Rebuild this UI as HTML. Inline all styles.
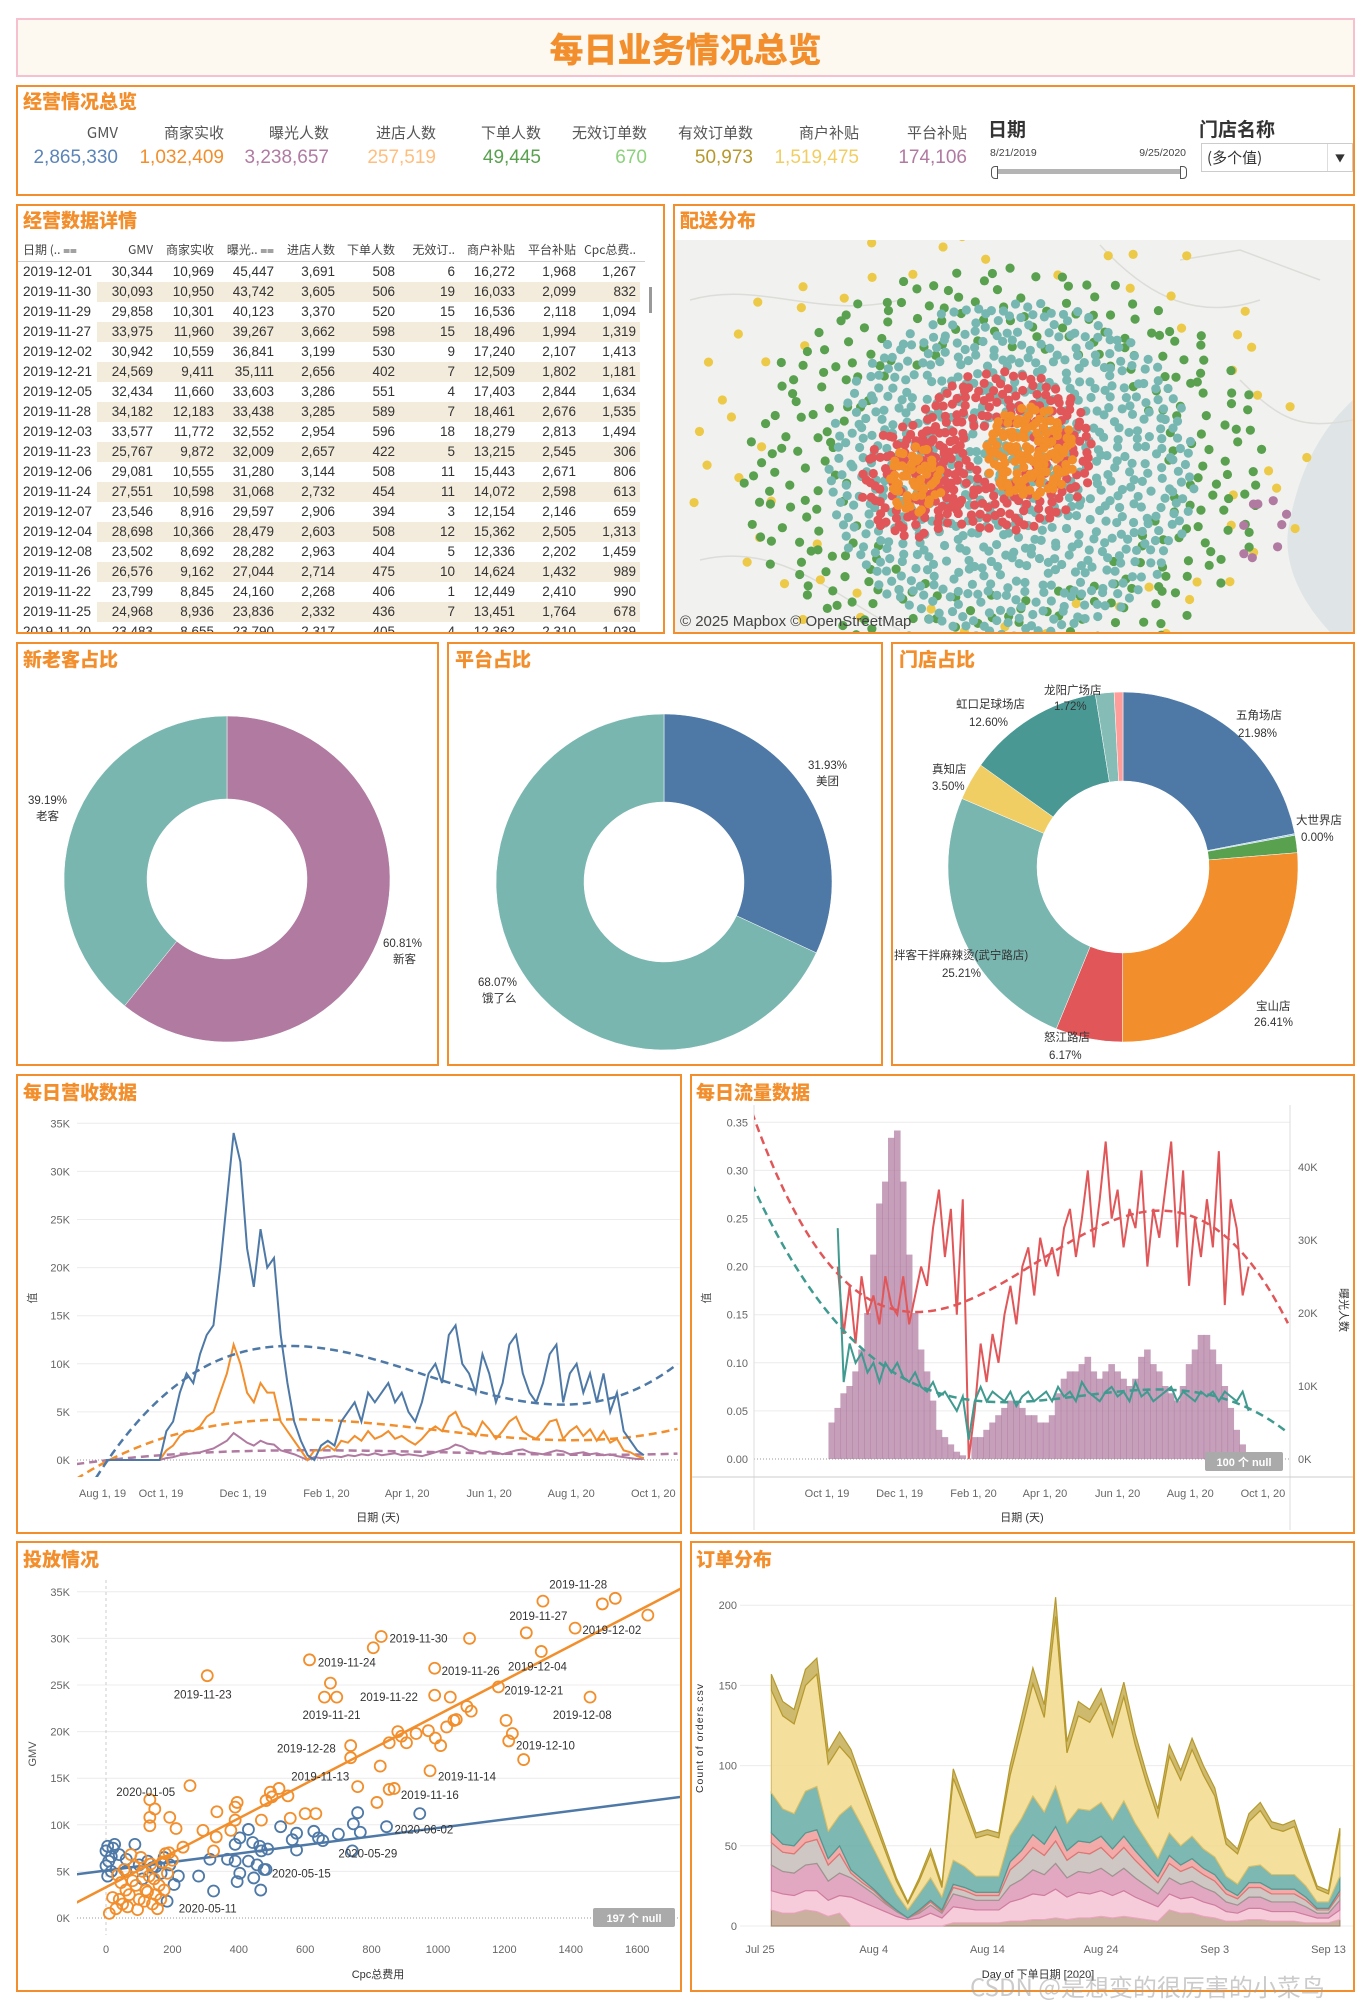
<!DOCTYPE html>
<html><head><meta charset="utf-8">
<style>
body{margin:0;width:1372px;height:2014px;position:relative;background:#fff;font-family:"Liberation Sans","Noto Sans CJK SC",sans-serif;overflow:hidden}
.p{position:absolute;border:2px solid #f28e2b;box-sizing:border-box;background:#fff}
.h{position:absolute;color:#f28e2b;font-weight:900;font-size:19px;font-family:"Noto Sans CJK SC",sans-serif;line-height:24px;white-space:nowrap}
.kl{position:absolute;font-size:15px;color:#555;text-align:right;width:110px;font-family:"Noto Sans CJK SC",sans-serif;line-height:20px}
.kv{position:absolute;font-size:19px;text-align:right;width:130px;line-height:22px}
.tr{position:absolute;left:18px;width:625px;height:20px;font-size:13.5px;color:#333}
.tc{position:absolute;top:0;line-height:20px;text-align:right;width:70px}
.th{position:absolute;top:241px;font-size:12px;color:#444;line-height:18px;text-align:right;width:70px;font-family:"Noto Sans CJK SC",sans-serif;white-space:nowrap}
</style></head>
<body>
<div class="p" style="left:16px;top:18px;width:1339px;height:59px;background:#fdf8f0;border:2px solid #f6c0cf">
  <div style="position:absolute;left:0;right:0;top:6px;text-align:center;color:#f28e2b;font-size:34px;font-weight:900;font-family:'Noto Sans CJK SC',sans-serif;line-height:44px">每日业务情况总览</div>
</div>

<div class="p" style="left:16px;top:85px;width:1339px;height:111px"></div>
<div class="h" style="left:23px;top:89px">经营情况总览</div>
<div id="kpis"></div>
<div style="position:absolute;left:988px;top:115px;font-size:19px;font-weight:bold;color:#333;font-family:'Noto Sans CJK SC',sans-serif">日期</div>
<div style="position:absolute;left:990px;top:147px;font-size:10.5px;color:#444">8/21/2019</div>
<div style="position:absolute;left:1130px;top:147px;width:56px;text-align:right;font-size:10.5px;color:#444">9/25/2020</div>
<div style="position:absolute;left:993px;top:169px;width:193px;height:5px;background:#b4b4b4"></div>
<div style="position:absolute;left:991px;top:166px;width:5px;height:11px;border:1px solid #555;border-radius:4px 0 0 4px;background:#fff"></div>
<div style="position:absolute;left:1180px;top:166px;width:5px;height:11px;border:1px solid #555;border-radius:0 4px 4px 0;background:#fff"></div>
<div style="position:absolute;left:1199px;top:115px;font-size:19px;font-weight:bold;color:#333;font-family:'Noto Sans CJK SC',sans-serif">门店名称</div>
<div style="position:absolute;left:1201px;top:143px;width:152px;height:29px;border:1px solid #ccc;box-sizing:border-box;font-size:15px;line-height:27px;padding-left:5px;color:#333;font-family:'Noto Sans CJK SC',sans-serif">(多个值)<span style="position:absolute;right:0;top:0;width:24px;height:27px;border-left:1px solid #ddd;text-align:center;font-size:10px">▼</span></div>

<div class="p" style="left:16px;top:204px;width:649px;height:430px;overflow:hidden">
  <div id="tbl" style="position:absolute;left:-18px;top:-206px;width:680px;height:640px"></div>
</div>
<div class="h" style="left:23px;top:208px">经营数据详情</div>

<div class="p" style="left:673px;top:204px;width:682px;height:430px"></div>
<div class="h" style="left:680px;top:208px">配送分布</div>

<div class="p" style="left:16px;top:642px;width:423px;height:424px"></div>
<div class="h" style="left:23px;top:647px">新老客占比</div>
<div class="p" style="left:447px;top:642px;width:436px;height:424px"></div>
<div class="h" style="left:455px;top:647px">平台占比</div>
<div class="p" style="left:891px;top:642px;width:464px;height:424px"></div>
<div class="h" style="left:899px;top:647px">门店占比</div>

<div class="p" style="left:16px;top:1074px;width:666px;height:460px"></div>
<div class="h" style="left:23px;top:1080px">每日营收数据</div>
<div class="p" style="left:690px;top:1074px;width:665px;height:460px"></div>
<div class="h" style="left:696px;top:1080px">每日流量数据</div>

<div class="p" style="left:16px;top:1541px;width:666px;height:451px"></div>
<div class="h" style="left:23px;top:1547px">投放情况</div>
<div class="p" style="left:690px;top:1541px;width:665px;height:451px"></div>
<div class="h" style="left:696px;top:1547px">订单分布</div>

<svg id="sv" width="1372" height="2014" style="position:absolute;left:0;top:0;pointer-events:none" xmlns="http://www.w3.org/2000/svg">
<defs>
<clipPath id="cMap"><rect x="675" y="240" width="678" height="392"/></clipPath>
<clipPath id="c1"><rect x="77" y="1105" width="603" height="372"/></clipPath>
<clipPath id="c2"><rect x="754" y="1105" width="536" height="372"/></clipPath>
<clipPath id="c3"><rect x="77" y="1575" width="603" height="360"/></clipPath>
</defs>
</svg>
<div style="position:absolute;left:970px;top:1968px;font-size:24px;color:rgba(160,160,160,0.55);font-family:'Noto Sans CJK SC',sans-serif;white-space:nowrap">CSDN @是想变的很厉害的小菜鸟</div>

<script>
// ---------- KPI data ----------
const kpiNames=['GMV','商家实收','曝光人数','进店人数','下单人数','无效订单数','有效订单数','商户补贴','平台补贴'];
const kpiValues=['2,865,330','1,032,409','3,238,657','257,519','49,445','670','50,973','1,519,475','174,106'];
const kpiColors=['#5b84b8','#f28e2b','#b07aa1','#ffbe7d','#59a14f','#8cd17d','#b6992d','#f1ce63','#b07aa1'];
const kpiRight=[118,224,329,436,541,647,753,859,967];
const kp=document.getElementById('kpis');
kpiNames.forEach((n,i)=>{
  const l=document.createElement('div');l.className='kl';
  
  
  l.style.left=(kpiRight[i]-110)+'px';l.style.top='123px';l.textContent=n;kp.appendChild(l);
  const v=document.createElement('div');v.className='kv';
  
  
  v.style.left=(kpiRight[i]-130)+'px';v.style.top='147px';v.style.color=kpiColors[i];v.textContent=kpiValues[i];kp.appendChild(v);
});

// ---------- table data ----------
const tableHead=['日期 (.. ⩵','GMV','商家实收','曝光.. ⩵','进店人数','下单人数','无效订..','商户补贴','平台补贴','Cpc总费..'];
const tableRows=[
['2019-12-01','30,344','10,969','45,447','3,691','508','6','16,272','1,968','1,267'],
['2019-11-30','30,093','10,950','43,742','3,605','506','19','16,033','2,099','832'],
['2019-11-29','29,858','10,301','40,123','3,370','520','15','16,536','2,118','1,094'],
['2019-11-27','33,975','11,960','39,267','3,662','598','15','18,496','1,994','1,319'],
['2019-12-02','30,942','10,559','36,841','3,199','530','9','17,240','2,107','1,413'],
['2019-12-21','24,569','9,411','35,111','2,656','402','7','12,509','1,802','1,181'],
['2019-12-05','32,434','11,660','33,603','3,286','551','4','17,403','2,844','1,634'],
['2019-11-28','34,182','12,183','33,438','3,285','589','7','18,461','2,676','1,535'],
['2019-12-03','33,577','11,772','32,552','2,954','596','18','18,279','2,813','1,494'],
['2019-11-23','25,767','9,872','32,009','2,657','422','5','13,215','2,545','306'],
['2019-12-06','29,081','10,555','31,280','3,144','508','11','15,443','2,671','806'],
['2019-11-24','27,551','10,598','31,068','2,732','454','11','14,072','2,598','613'],
['2019-12-07','23,546','8,916','29,597','2,906','394','3','12,154','2,146','659'],
['2019-12-04','28,698','10,366','28,479','2,603','508','12','15,362','2,505','1,313'],
['2019-12-08','23,502','8,692','28,282','2,963','404','5','12,336','2,202','1,459'],
['2019-11-26','26,576','9,162','27,044','2,714','475','10','14,624','1,432','989'],
['2019-11-22','23,799','8,845','24,160','2,268','406','1','12,449','2,410','990'],
['2019-11-25','24,968','8,936','23,836','2,332','436','7','13,451','1,764','678'],
['2019-11-20','23,483','8,655','23,790','2,317','405','4','12,362','2,310','1,039']];
const colRight=[0,153,214,274,335,395,455,515,576,636];
const tb=document.getElementById('tbl');
tableHead.forEach((h,j)=>{
  const d=document.createElement('div');d.className='th';
  
  
  if(j===0){d.style.left='23px';d.style.textAlign='left';}else d.style.left=(colRight[j]-70)+'px';
  d.textContent=h;tb.appendChild(d);
});
const hl=document.createElement('div');


hl.style.cssText='position:absolute;left:18px;top:261px;width:627px;height:1px;background:#ccc';tb.appendChild(hl);
tableRows.forEach((r,i)=>{
  const row=document.createElement('div');row.className='tr';
  
  
  row.style.top=(262+i*20)+'px';
  if(i%2===1){const s=document.createElement('div');
    
    
    s.style.cssText='position:absolute;left:79px;top:0;width:543px;height:20px;background:#f3ecdc';row.appendChild(s);}
  r.forEach((c,j)=>{const d=document.createElement('div');d.className='tc';
    
    
    if(j===0){d.style.left='5px';d.style.textAlign='left';d.style.width='90px';}else d.style.left=(colRight[j]-70-18)+'px';
    d.textContent=c;row.appendChild(d);});
  tb.appendChild(row);
});
const sb=document.createElement('div');


sb.style.cssText='position:absolute;left:649px;top:287px;width:3px;height:26px;background:#999';tb.appendChild(sb);

// ---------- SVG helpers ----------
const NS='http://www.w3.org/2000/svg';const sv=document.getElementById('sv');
function mk(tag,at,parent){const e=document.createElementNS(NS,tag);for(const k in at)e.setAttribute(k,at[k]);(parent||sv).appendChild(e);return e;}
function txt(x,y,s,at,parent){const e=mk('text',Object.assign({x:x,y:y,'font-size':11,fill:'#666','font-family':'Liberation Sans, Noto Sans CJK SC, sans-serif'},at||{}),parent);e.textContent=s;return e;}
function polyfit(xs,ys,deg){const n=deg+1;const A=[];for(let i=0;i<n;i++){A.push(new Array(n+1).fill(0));}
  const m=xs.reduce((a,b)=>a+b,0)/xs.length;let sd=0;xs.forEach(x=>sd+=(x-m)*(x-m));sd=Math.sqrt(sd/xs.length)||1;
  xs.forEach((x0,k)=>{const x=(x0-m)/sd;const p=[];for(let i=0;i<2*n;i++)p.push(Math.pow(x,i));
    for(let i=0;i<n;i++){for(let j=0;j<n;j++)A[i][j]+=p[i+j];A[i][n]+=ys[k]*p[i];}});
  for(let i=0;i<n;i++){let mx=i;for(let r=i+1;r<n;r++)if(Math.abs(A[r][i])>Math.abs(A[mx][i]))mx=r;[A[i],A[mx]]=[A[mx],A[i]];
    for(let r=0;r<n;r++){if(r===i)continue;const f=A[r][i]/A[i][i];for(let c=i;c<=n;c++)A[r][c]-=f*A[i][c];}}
  const co=A.map((r,i)=>r[n]/r[i]);return x0=>{const x=(x0-m)/sd;let s=0;co.forEach((c,i)=>s+=c*Math.pow(x,i));return s;};}
function halton(i,b){let f=1,r=0;while(i>0){f/=b;r+=f*(i%b);i=Math.floor(i/b);}return r;}

// ---------- MAP ----------
const clusterColor=['#edc948','#59a14f','#76b7b2','#e15759','#e15759','#f28e2b','#f28e2b','#b07aa1'];
const clusterCx=[1000,1005,1012,1003,912,1030,915,1262];
const clusterCy=[440,470,470,452,482,452,480,520];
const clusterRx=[320,265,185,92,52,46,28,30];
const clusterRy=[235,205,170,82,58,46,34,45];
const clusterInner=[0.72,0.6,0.0,0.35,0.25,0.0,0.0,0.2];
const clusterCount=[70,300,700,230,95,130,55,9];
const mg=mk('g',{'clip-path':'url(#cMap)'});


mk('rect',{x:675,y:240,width:678,height:392,fill:'#f1f1ef'},mg);
const river=mk('path',{d:'M1353 400 C1320 430 1300 470 1290 520 C1280 560 1300 600 1330 632 L1353 632 Z',fill:'#dfe5e6'},mg);


const roadsD=['M690 300 C760 280 820 320 900 300','M1100 245 C1150 300 1200 320 1260 300','M700 560 C780 540 840 600 900 630','M1180 260 L1240 250 L1320 280','M1240 380 C1280 420 1300 430 1353 420'];
roadsD.forEach(d=>{const r=mk('path',{d:d,fill:'none',stroke:'#dcdcd8','stroke-width':1.5},mg);
  
  });
clusterColor.forEach((col,c)=>{
  for(let i=1;i<=clusterCount[c];i++){
    const t=halton(i+c*7,2);const r=Math.sqrt(clusterInner[c]*clusterInner[c]+(1-clusterInner[c]*clusterInner[c])*t);
    const a=halton(i+c*7,3)*2*Math.PI;
    const d=mk('circle',{cx:clusterCx[c]+clusterRx[c]*r*Math.cos(a),cy:clusterCy[c]+clusterRy[c]*r*Math.sin(a),r:4.6,fill:col},mg);
    
    
  }});
const cp=txt(680,626,'© 2025 Mapbox © OpenStreetMap',{'font-size':15,fill:'#444'});



// ---------- PIES ----------
function arc(cx,cy,r0,r1,a0,a1){const p=(r,a)=>[cx+r*Math.sin(a),cy-r*Math.cos(a)];const la=(a1-a0)>Math.PI?1:0;
  const [x1,y1]=p(r1,a0),[x2,y2]=p(r1,a1),[x3,y3]=p(r0,a1),[x4,y4]=p(r0,a0);
  return `M${x1} ${y1}A${r1} ${r1} 0 ${la} 1 ${x2} ${y2}L${x3} ${y3}A${r0} ${r0} 0 ${la} 0 ${x4} ${y4}Z`;}
function pie(cx,cy,r0,r1,vals,cols,name){let a=0;const tot=vals.reduce((s,v)=>s+v,0);
  vals.forEach((v,i)=>{const b=a+v/tot*2*Math.PI;if(v>0){const s=mk('path',{d:arc(cx,cy,r0,r1,a,b),fill:cols[i],stroke:'#fff','stroke-width':0.5});
    
    }a=b;});}
const custLabels=['新客','老客'];const custValues=[60.81,39.19];
pie(227,879,80,163,custValues,['#b07aa1','#79b6b0'],'customer-slice');
const platLabels=['美团','饿了么'];const platValues=[31.93,68.07];
pie(664,882,80,168,platValues,['#4e79a7','#79b6b0'],'platform-slice');
const storeLabels=['五角场店','大世界店','其他','宝山店','怒江路店','拌客干拌麻辣烫(武宁路店)','真知店','虹口足球场店','龙阳广场店','其他2'];
const storeValues=[21.98,0.15,1.6,26.41,6.17,25.21,3.50,12.60,1.72,0.81];
pie(1123,867,86,175,storeValues,['#4e79a7','#a0cbe8','#59a14f','#f28e2b','#e15759','#79b6b0','#f1ce63','#499894','#86bcb6','#ff9d9a'],'store-slice');
const pieLabelText=['39.19%','老客','60.81%','新客','31.93%','美团','68.07%','饿了么','五角场店','21.98%','大世界店','0.00%','宝山店','26.41%','怒江路店','6.17%','拌客干拌麻辣烫(武宁路店)','25.21%','真知店','3.50%','虹口足球场店','12.60%','龙阳广场店','1.72%'];
const pieLabelX=[28,36,383,393,808,816,478,482,1236,1238,1296,1301,1256,1254,1044,1049,894,942,932,932,956,969,1044,1054];
const pieLabelY=[804,820,947,963,769,785,986,1002,719,737,824,841,1010,1026,1041,1059,959,977,773,790,708,726,694,710];
pieLabelText.forEach((s,i)=>{const t=txt(pieLabelX[i],pieLabelY[i],s,{'font-size':11.5,fill:'#333'});
  
  });

// ---------- CHART 1: revenue ----------
const revDays=[];for(let i=0;i<=80;i++)revDays.push(i*5); // days since 2019-08-21
const gmvK=[0,0,0,0,0,0,0,0,0,3,4,7,9,8,11,13,14,20,27,34,31,22,18,24,20,21,13,8,4,2,0.5,0,1.5,2,1.5,4,5,6,4,7,6,7,8,6,7,5,4,6,9,10,8,13,14,10,9,7,11,9,6,8,12,13,9,7,6,8,11,12,6,9,10,7,9,6,9,5,7,3,2,1,0.5];
const incomeK=[0,0,0,0,0,0,0,0,0,1,1.5,2.5,3,3,3.5,4.5,5,7,9,12,10,7,6,8,7,7,4,3,2,1,0,1,1,1.5,1,2,1.8,2.5,2,3,2.2,2.5,3,2.2,2.5,2,1.6,2.2,3,3.5,3,4.5,5,3.5,3.2,2.5,4,3.2,2.2,3,4,4.5,3,2.5,2.2,3,4,4.2,2.2,3,3.5,2.5,3.2,2,3,1.8,2.2,1,0.8,0.4,0.2];
const subsidyK=[0,0,0,0,0,0,0,0,0,0.2,0.3,0.5,0.6,0.7,0.8,1,1.2,1.6,2,2.8,2.3,1.8,1.5,2,1.7,1.6,1,0.8,0.6,0.3,0,0.3,0.2,0.3,0.4,0.3,0.5,0.4,0.6,0.5,0.7,0.5,0.6,0.7,0.5,0.6,0.5,0.4,0.6,0.8,1,1.2,1.6,1.4,1,0.9,0.7,0.9,0.8,0.6,0.8,1,1.1,0.8,0.7,0.6,0.8,1,0.9,0.6,0.7,0.8,0.6,0.7,0.5,0.6,0.4,0.3,0.2,0.1,0.1];
const revYTicks=[0,5,10,15,20,25,30,35];
const dateTickLabels=['Aug 1, 19','Oct 1, 19','Dec 1, 19','Feb 1, 20','Apr 1, 20','Jun 1, 20','Aug 1, 20','Oct 1, 20'];
const dateTickDays=[-20,41,102,164,224,285,346,407];
const x1=d=>161+(d-41)*1.345, y1=v=>1460-v*9.62;
revYTicks.forEach(t=>{const g=mk('line',{x1:77,x2:680,y1:y1(t),y2:y1(t),stroke:t===0?'#999':'#ececec','stroke-dasharray':t===0?'1 2':'none'});
  
  
  const l=txt(70,y1(t)+4,t+'K',{'text-anchor':'end'});
  
  });
dateTickLabels.forEach((s,i)=>{const l=txt(i===0?79:x1(dateTickDays[i]),1497,s,{'text-anchor':i===0?'start':'middle'});
  
  });
let t1=txt(378,1521,'日期 (天)',{'text-anchor':'middle',fill:'#333'});
t1=txt(36,1298,'值',{'text-anchor':'middle',fill:'#555',transform:'rotate(-90 36 1298)'});
const g1=mk('g',{'clip-path':'url(#c1)'});
[[subsidyK,'#b07aa1'],[incomeK,'#f28e2b'],[gmvK,'#4e79a7']].forEach(([arr,col])=>{
  const f=polyfit(revDays,arr,3);let d='';for(let day=-22;day<=425;day+=3)d+=(d?'L':'M')+x1(day)+' '+y1(f(day));
  const tr=mk('path',{d:d,fill:'none',stroke:col,'stroke-width':2.5,'stroke-dasharray':'8 5'},g1);
  
  
  const ln=mk('path',{d:arr.map((v,i)=>(i?'L':'M')+x1(revDays[i])+' '+y1(v)).join(''),fill:'none',stroke:col,'stroke-width':2},g1);
  
  });

// ---------- CHART 2: traffic ----------
const trafDays=revDays;
const exposureK=[0,0,0,0,0,0,0,0,0,5,7,9,10,12,15,20,28,35,38,44,45,38,28,20,15,12,8,4,3,2,1,0.5,0,3,3,4,5,6,7,8,8,7,6,6,5,5,6,9,11,12,12,13,14,12,11,12,13,12,11,10,11,14,15,13,12,10,9,8,10,13,15,17,17,15,13,10,7,4,2,0.5,0];
const convRate=[null,null,null,null,null,null,null,null,null,null,0.2,0.13,0.18,0.12,0.19,0.15,0.17,0.14,0.19,0.16,0.15,0.19,0.14,0.17,0.2,0.18,0.24,0.28,0.21,0.26,0.15,0.27,0.0,0.05,0.12,0.08,0.13,0.1,0.15,0.18,0.14,0.2,0.22,0.17,0.23,0.2,0.22,0.19,0.24,0.26,0.21,0.25,0.3,0.22,0.27,0.33,0.25,0.28,0.22,0.26,0.24,0.3,0.2,0.26,0.23,0.28,0.33,0.22,0.3,0.18,0.25,0.21,0.27,0.22,0.32,0.16,0.27,0.24,0.17,0.2,null];
const orderRate=[null,null,null,null,null,null,null,null,null,null,0.24,0.08,0.12,0.1,0.11,0.09,0.1,0.08,0.1,0.09,0.1,0.085,0.08,0.09,0.075,0.07,0.08,0.065,0.07,0.06,0.05,0.065,0.02,0.06,0.075,0.06,0.07,0.065,0.06,0.07,0.055,0.065,0.07,0.06,0.065,0.07,0.06,0.075,0.065,0.07,0.06,0.08,0.07,0.065,0.06,0.07,0.075,0.065,0.07,0.06,0.08,0.065,0.07,0.06,0.065,0.07,0.075,0.06,0.07,0.065,0.06,0.07,0.065,0.07,0.06,0.07,0.065,0.06,0.07,0.05,null];
const leftTicks=[0,0.05,0.10,0.15,0.20,0.25,0.30,0.35];
const rightTicks=[0,10,20,30,40];
const x2=d=>827+(d-41)*1.191, yL=v=>1459-v*962, yR=k=>1459-k*7.3;
leftTicks.forEach(t=>{const g=mk('line',{x1:754,x2:1290,y1:yL(t),y2:yL(t),stroke:t===0?'#999':'#ececec','stroke-dasharray':t===0?'1 2':'none'});
  
  
  const l=txt(748,yL(t)+4,t.toFixed(2),{'text-anchor':'end'});
  
  });
rightTicks.forEach(t=>{const l=txt(1298,yR(t)+4,t+'K');
  
  });
[754,1290].forEach(x=>{const a=mk('line',{x1:x,x2:x,y1:1105,y2:1530,stroke:'#ddd'});});
let ax=mk('line',{x1:692,x2:1353,y1:1477,y2:1477,stroke:'#ccc'});
dateTickLabels.slice(1).forEach((s,i)=>{const l=txt(x2(dateTickDays[i+1]),1497,s,{'text-anchor':'middle'});
  
  });
t1=txt(1022,1521,'日期 (天)',{'text-anchor':'middle',fill:'#333'});
t1=txt(710,1298,'值',{'text-anchor':'middle',fill:'#555',transform:'rotate(-90 710 1298)'});
t1=txt(1340,1310,'曝光人数',{'text-anchor':'middle',fill:'#333',transform:'rotate(90 1340 1310)'});
const g2=mk('g',{'clip-path':'url(#c2)'});
exposureK.forEach((k,i)=>{if(k<=0)return;const b=mk('rect',{x:x2(trafDays[i])-3.3,y:yR(k),width:6.6,height:yR(0)-yR(k),fill:'#b07aa1','fill-opacity':0.72},g2);
  
  });
[[convRate,'#e15759'],[orderRate,'#3f9a8f']].forEach(([arr,col])=>{
  const xs=[],ys=[];arr.forEach((v,i)=>{if(v!==null){xs.push(trafDays[i]);ys.push(v);}});
  const f=polyfit(xs,ys,3);let d='';for(let day=-22;day<=430;day+=3)d+=(d?'L':'M')+x2(day)+' '+yL(f(day));
  const tr=mk('path',{d:d,fill:'none',stroke:col,'stroke-width':2.5,'stroke-dasharray':'8 5'},g2);
  
  
  let p='';arr.forEach((v,i)=>{if(v!==null)p+=(p?'L':'M')+x2(trafDays[i])+' '+yL(v);});
  const ln=mk('path',{d:p,fill:'none',stroke:col,'stroke-width':2},g2);
  
  });
let nb=mk('rect',{x:1205,y:1452,width:78,height:19,rx:2,fill:'#aaa'});
t1=txt(1244,1466,'100 个 null',{'text-anchor':'middle',fill:'#fff','font-weight':'bold'});

// ---------- CHART 3: scatter ----------
const cpc2019=[1316,1495,1534,1632,1266,1413,829,1095,805,1311,613,990,305,676,1182,658,695,990,1037,1458,1087,1100,1055,1048,1026,1205,879,890,905,934,971,992,1008,853,1224,1213,737,737,1258,826,976,758,853,868,253,816,495,521,548,482,500,395,389,334,132,147,132,192,132,211,600,632,555,389,468,292,332,376,232,179,324,30,40,50,60,70,80,90,100,110,120,130,140,150,160,170,45,65,85,95,105,115,125,135,145,155,20,35,75,55,165,175,185,10,200,190];
const gmv2019=[34.0,33.7,34.3,32.5,30.6,31.1,30.2,30.0,29.0,28.6,27.7,26.8,26.0,25.2,24.8,23.7,23.7,23.9,23.7,23.7,22.7,22.2,21.3,21.2,20.5,21.2,20.0,19.5,18.8,19.8,20.1,19.3,18.5,18.8,19.8,19.0,18.5,17.2,17.0,16.3,15.8,14.1,13.8,13.9,14.2,12.4,13.5,13.9,13.1,12.6,13.0,12.4,11.9,11.4,12.7,11.7,10.8,10.8,9.9,9.6,11.2,11.2,10.7,10.5,10.5,9.4,8.7,9.4,7.6,6.9,7.2,1.0,2.0,1.5,3.0,2.5,4.0,3.5,2.0,5.0,3.0,4.5,1.5,2.5,3.5,6.0,3.8,1.2,5.5,0.9,6.5,1.8,2.8,5.8,4.2,1.0,2.2,4.6,6.8,5.2,2.0,3.0,4.8,0.5,6.2,7.0];
const cpc2020=[21,5,26,0,16,8,0,16,5,87,61,100,126,140,166,192,218,205,184,279,324,313,389,403,429,442,463,468,487,366,389,429,455,403,395,445,466,482,526,574,561,574,626,640,653,700,745,758,766,845,945,476,742,60,110,150,175,40];
const gmv2020=[7.5,7.7,7.9,7.2,6.6,6.1,5.6,5.0,4.5,7.9,6.3,5.7,6.1,5.4,4.8,5.7,4.5,3.6,1.8,4.5,2.9,6.3,7.9,8.6,9.5,8.1,7.7,7.2,7.4,6.3,6.1,6.1,5.7,4.8,3.9,4.3,3.0,5.2,9.8,9.1,8.4,7.3,9.3,8.6,8.3,9.0,10.1,11.3,9.2,9.8,11.2,5.2,7.2,5.0,4.2,5.5,6.5,6.8];
const pointLabels=['2019-11-28','2019-11-27','2019-12-02','2019-11-30','2019-11-24','2019-11-26','2019-12-04','2019-11-23','2019-11-22','2019-12-21','2019-11-21','2019-12-08','2019-12-28','2019-12-10','2019-11-13','2019-11-14','2019-11-16','2020-01-05','2020-06-02','2020-05-29','2020-05-15','2020-05-11'];
const labelCpc=[1335,1215,1435,854,638,1011,1211,204,765,1200,592,1346,515,1235,558,1000,888,31,869,700,500,219];
const labelGmv=[35.8,32.4,30.9,30.0,27.4,26.5,27.0,24.0,23.7,24.4,21.8,21.8,18.2,18.5,15.2,15.2,13.2,13.5,9.5,6.9,4.8,1.0];
const cpcTicks=[0,200,400,600,800,1000,1200,1400,1600];
const gmvTicks=[0,5,10,15,20,25,30,35];
const xs3=c=>106+c*0.332, ys3=k=>1918-k*9.32;
gmvTicks.forEach(t=>{const g=mk('line',{x1:77,x2:680,y1:ys3(t),y2:ys3(t),stroke:t===0?'#999':'#ececec','stroke-dasharray':t===0?'1 2':'none'});
  
  
  const l=txt(70,ys3(t)+4,t+'K',{'text-anchor':'end'});
  
  });
cpcTicks.forEach(t=>{const l=txt(xs3(t),1953,String(t),{'text-anchor':'middle'});
  
  });
ax=mk('line',{x1:xs3(0),x2:xs3(0),y1:1580,y2:1935,stroke:'#ccc','stroke-dasharray':'3 3'});
t1=txt(378,1978,'Cpc总费用',{'text-anchor':'middle',fill:'#333'});
t1=txt(36,1754,'GMV',{'text-anchor':'middle',fill:'#555',transform:'rotate(-90 36 1754)'});
const g3=mk('g',{'clip-path':'url(#c3)'});
[[cpc2020,gmv2020,'#4e79a7'],[cpc2019,gmv2019,'#f28e2b']].forEach(([cx,gy,col])=>{
  const f=polyfit(cx,gy,1);
  const rl=mk('line',{x1:xs3(-120),y1:ys3(f(-120)),x2:xs3(1800),y2:ys3(f(1800)),stroke:col,'stroke-width':2.5},g3);
  
  
  cx.forEach((c,i)=>{const p=mk('circle',{cx:xs3(c),cy:ys3(gy[i]),r:5.5,fill:'none',stroke:col,'stroke-width':1.8},g3);
    
    });});
pointLabels.forEach((s,i)=>{const l=txt(xs3(labelCpc[i]),ys3(labelGmv[i])+4,s,{fill:'#333','font-size':11.5});
  
  });
nb=mk('rect',{x:593,y:1908,width:82,height:19,rx:2,fill:'#aaa'});
t1=txt(634,1922,'197 个 null',{'text-anchor':'middle',fill:'#fff','font-weight':'bold'});

// ---------- CHART 4: stacked area ----------
const orderDays=[];for(let d=1;d<=51;d++)orderDays.push(d); // days since Jul 25
const layerBrown=[10,8,8,10,9,6,8,0,0,0,0,0,0,0,0,0,2,2,2,2,2,3,3,4,4,5,4,5,5,6,5,6,5,4,3,10,8,8,6,5,3,3,4,4,3,3,3,2,2,2,4];
const layerPink=[12,12,11,12,13,10,11,18,15,12,9,6,4,5,8,5,10,9,8,8,8,12,14,16,15,18,14,16,15,16,14,16,13,11,9,10,9,10,9,8,6,5,7,7,6,6,6,5,3,3,6];
const layerMagenta=[16,14,14,16,17,12,14,12,10,8,5,3,1,3,5,3,8,7,6,6,6,10,12,15,13,16,12,13,13,14,12,14,12,10,8,10,9,10,9,8,6,5,7,7,6,6,6,5,3,3,6];
const layerGray=[14,12,12,14,15,10,12,3,2,2,1,1,0,1,2,1,4,4,3,3,3,10,12,14,12,14,11,12,12,13,11,13,11,9,7,9,8,9,8,7,5,4,6,6,5,5,5,4,2,2,4];
const layerSalmon=[6,5,5,6,6,4,5,2,2,1,1,0,0,1,1,1,2,2,2,2,2,5,6,8,7,9,6,7,7,7,6,7,6,5,4,5,4,5,4,4,3,2,3,3,3,3,3,2,1,1,2];
const layerTeal=[25,22,20,26,27,17,19,40,33,25,18,10,5,10,14,8,15,13,10,10,10,16,20,24,20,25,17,20,20,21,18,22,17,14,11,14,12,14,12,11,8,7,10,11,9,9,9,7,4,4,9];
const layerYellow=[64,58,56,66,70,42,43,29,23,18,13,8,4,8,15,6,51,37,24,26,24,38,55,70,59,106,44,58,55,62,52,65,49,36,26,48,41,54,46,38,20,19,28,34,29,27,30,17,8,5,26];
const layerOlive=[10,9,9,10,10,8,9,6,5,4,3,2,1,2,3,2,6,4,3,3,3,6,8,10,8,12,7,9,8,9,8,9,7,6,5,7,6,7,6,5,4,3,5,5,4,4,4,3,2,2,4];
const orderLayers=[layerBrown,layerPink,layerMagenta,layerGray,layerSalmon,layerTeal,layerYellow,layerOlive];
const layerFill=['#c4a995','#f6c6d6','#e09fba','#c9c1bc','#f2a2a0','#6fb0aa','#f3dc91','#c9b25e'];
const layerStroke=['#a88a72','#eaa6c0','#cf7d9f','#9e9590','#e07573','#4e9a93','#d9c06a','#b6992d'];
const orderYTicks=[0,50,100,150,200];
const orderXLabels=['Jul 25','Aug 4','Aug 14','Aug 24','Sep 3','Sep 13'];
const orderXDays=[0,10,20,30,40,50];
const xa=d=>760+d*11.37, ya=v=>1926-v*1.604;
orderYTicks.forEach(t=>{const g=mk('line',{x1:740,x2:1353,y1:ya(t),y2:ya(t),stroke:'#ececec'});
  
  
  const l=txt(737,ya(t)+4,String(t),{'text-anchor':'end'});
  
  });
orderXLabels.forEach((s,i)=>{const l=txt(xa(orderXDays[i]),1953,s,{'text-anchor':'middle'});
  
  });
t1=txt(1038,1978,'Day of 下单日期 [2020]',{'text-anchor':'middle',fill:'#333'});
t1=txt(703,1738,'Count of orders.csv',{'text-anchor':'middle',fill:'#333','font-size':10.5,transform:'rotate(-90 703 1738)','letter-spacing':'1'});
const base=orderDays.map(()=>0);
orderLayers.forEach((L,k)=>{const top=L.map((v,i)=>base[i]+v);
  let d=orderDays.map((dd,i)=>(i?'L':'M')+xa(dd)+' '+ya(top[i])).join('');
  for(let i=orderDays.length-1;i>=0;i--)d+='L'+xa(orderDays[i])+' '+ya(base[i]);
  const a=mk('path',{d:d+'Z',fill:layerFill[k],'fill-opacity':0.9,stroke:layerStroke[k],'stroke-width':1.2});
  
  
  top.forEach((v,i)=>base[i]=v);});
</script>
</body></html>
